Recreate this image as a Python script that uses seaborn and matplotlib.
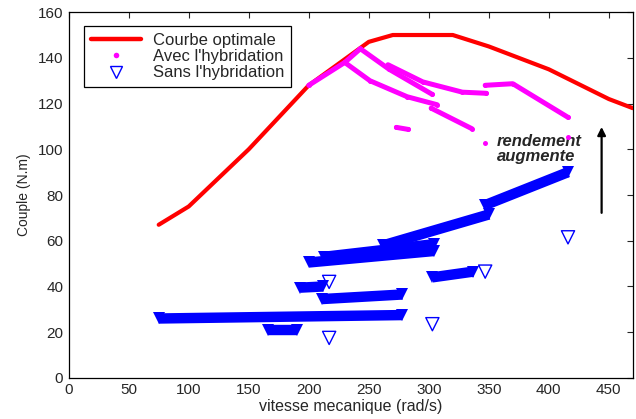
import matplotlib
matplotlib.use("Agg")
import matplotlib.pyplot as plt
import seaborn as sns
import pandas as pd
from matplotlib.lines import Line2D

# courbe optimale
opt_x = [75, 100, 150, 200, 250, 270, 320, 350, 400, 450, 470]
opt_y = [67, 75, 100, 128, 147, 150, 150, 145, 135, 122, 118]

# avec l'hybridation (traces de points)
hyb_x = [[200, 230, 243], [243, 267, 303], [230, 251, 282, 307],
         [266, 295, 328, 348], [302, 336], [273, 283],
         [347, 370, 416], [347], [416]]
hyb_y = [[128, 138, 144], [144, 135, 124], [138, 130, 123, 119.5],
         [137, 129.5, 125, 124.5], [118, 109], [109.6, 108.7],
         [128, 128.7, 114], [102.6], [105.6]]

# sans l'hybridation : bandes denses de triangles
band_x = [[75, 278], [166, 190], [211, 278], [193, 212], [303, 337],
          [200, 304], [213, 304], [262, 350], [347, 416]]
band_y = [[26, 27.5], [21, 21], [34.5, 36.5], [39.5, 40], [44, 46.5],
          [50.5, 55.5], [53, 58.5], [58, 71.5], [75.6, 90]]

# sans l'hybridation : points isoles
iso_x = [217, 217, 303, 347, 416]
iso_y = [17.5, 42, 23.5, 46.5, 61.5]

sns.set_style("white")
plt.rcParams['font.family'] = ['Liberation Sans', 'DejaVu Sans']

fig = plt.figure(figsize=(6.36, 4.19), dpi=100)
ax = fig.add_axes([0.108, 0.098, 0.887, 0.873])

opt = pd.DataFrame({"x": opt_x, "y": opt_y})
sns.lineplot(data=opt, x="x", y="y", sort=False, color="#ff0000",
             linewidth=3, ax=ax, zorder=3)

for bx, by in zip(band_x, band_y):
    ax.plot(bx, by, color="#0000ff", linewidth=7.5, solid_capstyle="butt",
            marker="v", markersize=8, markeredgewidth=0, zorder=2)

iso = pd.DataFrame({"x": iso_x, "y": iso_y})
sns.scatterplot(data=iso, x="x", y="y", marker="v", s=90,
                facecolor="none", edgecolor="#0000ff", linewidth=1,
                ax=ax, zorder=2)

for hx, hy in zip(hyb_x, hyb_y):
    ax.plot(hx, hy, color="#ff00ff", linewidth=3.6, solid_capstyle="round",
            marker="o", markersize=3.6, markeredgewidth=0, zorder=4)

ax.annotate("", xy=(444, 111), xytext=(444, 71),
            arrowprops=dict(arrowstyle="-|>", color="black", lw=1.6,
                            mutation_scale=12))
ax.text(357, 100, "rendement\naugmente", fontsize=12, fontweight="bold",
        fontstyle="italic", ha="left", va="center", linespacing=1.0)

ax.set_xlim(0, 470)
ax.set_ylim(0, 160)
ax.set_xticks(range(0, 451, 50))
ax.set_yticks(range(0, 161, 20))
ax.tick_params(direction="in", top=True, right=True, length=4,
               labelsize=11, width=0.8, pad=4)
for s in ax.spines.values():
    s.set_color("black")
    s.set_linewidth(0.9)
ax.set_xlabel("vitesse mecanique (rad/s)", fontsize=11.5, labelpad=1)
ax.set_ylabel("Couple (N.m)", fontsize=10, labelpad=5)

handles = [
    Line2D([], [], color="#ff0000", linewidth=3.2),
    Line2D([], [], color="#ff00ff", linestyle="none", marker="o",
           markersize=4, markeredgewidth=0),
    Line2D([], [], color="#0000ff", linestyle="none", marker="v",
           markersize=9, markerfacecolor="none", markeredgewidth=1),
]
leg = ax.legend(handles, ["Courbe optimale", "Avec l'hybridation",
                          "Sans l'hybridation"],
                loc="upper left", bbox_to_anchor=(0.028, 0.962),
                borderaxespad=0, fontsize=12, handlelength=3.0,
                handletextpad=0.7, fancybox=False, framealpha=1,
                edgecolor="black", labelspacing=0.08, borderpad=0.4)
leg.get_frame().set_linewidth(0.9)

fig.savefig("out.png", dpi=100)
